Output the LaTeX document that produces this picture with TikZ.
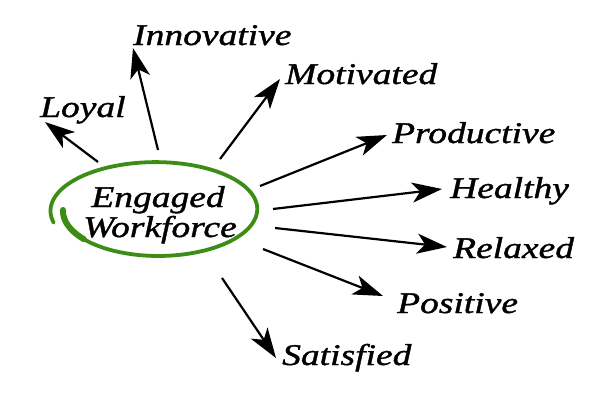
\documentclass[tikz,border=0pt]{standalone}
\usepackage{fontspec}
\newfontfamily\handfont{Liberation Serif}[FakeStretch=1.25,FakeBold=1.3]
\usetikzlibrary{arrows.meta}
\definecolor{ringgreen}{RGB}{60,140,22}
\tikzset{
  lbl/.style={anchor=base west,inner sep=0pt,font=\handfont\itshape\fontsize{30}{32}\selectfont},
  ctr/.style={anchor=base,inner sep=0pt,font=\handfont\itshape\fontsize{30}{32}\selectfont},
  arr/.style={line width=2.2pt,-{Stealth[length=30pt,width=20pt,inset=8pt]}},
  ring/.style={draw=ringgreen,line width=3.8pt,line cap=round}
}
\begin{document}
\begin{tikzpicture}[x=1pt,y=-1pt]
\useasboundingbox[fill=white] (0,0) rectangle (600,407);
% ring
\draw[ring] plot[domain=180:-195,samples=120,smooth]
  ({157+(94+13*(180-\x)/375)*cos(\x)},{210+(45+4*(180-\x)/375)*sin(\x)});
\draw[ring,line width=6pt] plot[domain=180:140,samples=20,smooth]
  ({157+(94+13*(180-\x)/375)*cos(\x)},{210+(45+4*(180-\x)/375)*sin(\x)});
% centre text
\node[ctr] (eng) at (158,207) {Engaged};
\node[ctr] (wf) at (160,237) {Workforce};
% labels
\node[lbl] (loyal) at (40,117) {Loyal};
\node[lbl] (innov) at (133,45) {Innovative};
\node[lbl] (motiv) at (285,84) {Motivated};
\node[lbl] (prod) at (392,143) {Productive};
\node[lbl] (heal) at (450,198) {Healthy};
\node[lbl] (relax) at (453,258) {Relaxed};
\node[lbl] (posit) at (397,313) {Positive};
\node[lbl] (satis) at (282,365) {Satisfied};
% arrow ends
\coordinate (t1) at (98,162);  \coordinate (h1) at (45,122);
\coordinate (t2) at (158,150); \coordinate (h2) at (133,48);
\coordinate (t3) at (220,159); \coordinate (h3) at (280,79);
\coordinate (t4) at (260,186); \coordinate (h4) at (387,135);
\coordinate (t5) at (273,209); \coordinate (h5) at (442,189);
\coordinate (t6) at (275,228); \coordinate (h6) at (447,247);
\coordinate (t7) at (263,249); \coordinate (h7) at (383,296);
\coordinate (t8) at (222,278); \coordinate (h8) at (276,358);
\foreach \i in {1,...,8} {\draw[arr] (t\i) -- (h\i);}
\end{tikzpicture}
\end{document}
